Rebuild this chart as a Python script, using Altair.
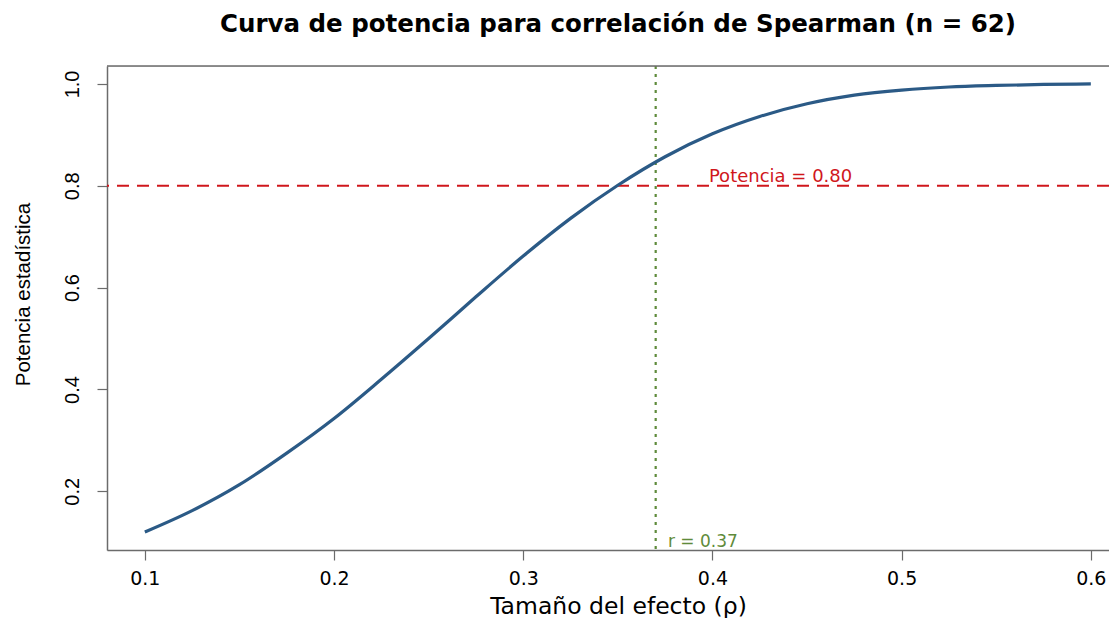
import altair as alt
import pandas as pd

# Effect size (rho) and statistical power
rho = [0.100, 0.125, 0.150, 0.175, 0.200, 0.225, 0.250, 0.275, 0.300, 0.325,
       0.350, 0.375, 0.400, 0.425, 0.450, 0.475, 0.500, 0.525, 0.550, 0.575, 0.600]
power = [0.120, 0.162, 0.213, 0.275, 0.343, 0.420, 0.500, 0.582, 0.662, 0.736,
         0.801, 0.857, 0.902, 0.936, 0.961, 0.978, 0.988, 0.994, 0.997, 0.999, 1.000]
x_ticks = [0.1, 0.2, 0.3, 0.4, 0.5, 0.6]
y_ticks = [0.2, 0.4, 0.6, 0.8, 1.0]
target_power = 0.80
r_obs = 0.37
title_text = "Curva de potencia para correlación de Spearman (n = 62)"
x_title = "Tamaño del efecto (ρ)"
y_title = "Potencia estadística"
power_label = "Potencia = 0.80"
r_label = "r = 0.37"

W, H = 1002, 484
XDOM = [0.08, 0.6096]
YDOM = [0.0848, 1.0352]
GREY = "#6b6b6b"
BLUE = "#2B5A86"
RED = "#D0171C"
GREEN = "#5F8B3B"
HFONT = "DejaVu Sans"
VFONT = "Liberation Sans"

df = pd.DataFrame({"rho": rho, "power": power})

xs = alt.Scale(domain=XDOM, nice=False, zero=False)
ys = alt.Scale(domain=YDOM, nice=False, zero=False)

x_axis = alt.Axis(values=x_ticks, format=".1f", grid=False, tickSize=10,
                  tickColor=GREY, tickWidth=1.2, domainColor=GREY, domainWidth=1.5,
                  labelFont=HFONT, labelFontSize=19, labelColor="black", labelPadding=9,
                  title=x_title, titleFont=HFONT, titleFontSize=23.5, titleFontWeight="normal",
                  titleColor="black", titleX=511, titleY=63, titleAlign="center",
                  titleBaseline="alphabetic")
y_axis = alt.Axis(values=y_ticks, format=".1f", grid=False, tickSize=10,
                  tickColor=GREY, tickWidth=1.2, domainColor=GREY, domainWidth=1.5,
                  labelFont=VFONT, labelFontSize=20, labelColor="black", labelAngle=-90,
                  labelPadding=15,
                  title=y_title, titleFont=VFONT, titleFontSize=20.5, titleFontWeight="normal",
                  titleColor="black", titleAngle=-90, titleX=-84, titleY=228,
                  titleAlign="center", titleBaseline="middle")

curve = alt.Chart(df).mark_line(color=BLUE, strokeWidth=3.2, clip=True,
                                interpolate="monotone").encode(
    x=alt.X("rho:Q", scale=xs, axis=x_axis),
    y=alt.Y("power:Q", scale=ys, axis=y_axis),
)

hline = alt.Chart(pd.DataFrame({"y": [target_power]})).mark_rule(
    color=RED, strokeWidth=2, strokeDash=[12, 8]).encode(y=alt.Y("y:Q", scale=ys))

vline = alt.Chart(pd.DataFrame({"x": [r_obs]})).mark_rule(
    color=GREEN, strokeWidth=2.2, strokeDash=[3, 5]).encode(x=alt.X("x:Q", scale=xs))

ptext = alt.Chart(pd.DataFrame({"x": [0.436], "y": [0.808], "t": [power_label]})).mark_text(
    color=RED, font=HFONT, fontSize=18, align="center", baseline="alphabetic").encode(
    x=alt.X("x:Q", scale=xs), y=alt.Y("y:Q", scale=ys), text="t:N")

rtext = alt.Chart(pd.DataFrame({"x": [0.3765], "y": [0.0905], "t": [r_label]})).mark_text(
    color=GREEN, font=HFONT, fontSize=17, align="left", baseline="alphabetic").encode(
    x=alt.X("x:Q", scale=xs), y=alt.Y("y:Q", scale=ys), text="t:N")

top_border = alt.Chart(pd.DataFrame({"a": [0]})).mark_rule(
    color=GREY, strokeWidth=1.5).encode(x=alt.value(0), x2=alt.value(W), y=alt.value(0))

chart = alt.layer(hline, vline, curve, ptext, rtext, top_border).properties(
    width=W, height=H,
    title=alt.TitleParams(title_text, font=HFONT, fontSize=24.5, fontWeight="bold",
                          color="black", anchor="middle", dx=10, offset=27),
    autosize=alt.AutoSizeParams(type="none"),
    padding={"left": 99, "top": 58, "right": 0, "bottom": 68},
).configure_view(stroke=None).configure(background="white")

chart.save("out.html", embed_options={"renderer": "svg", "actions": False})
